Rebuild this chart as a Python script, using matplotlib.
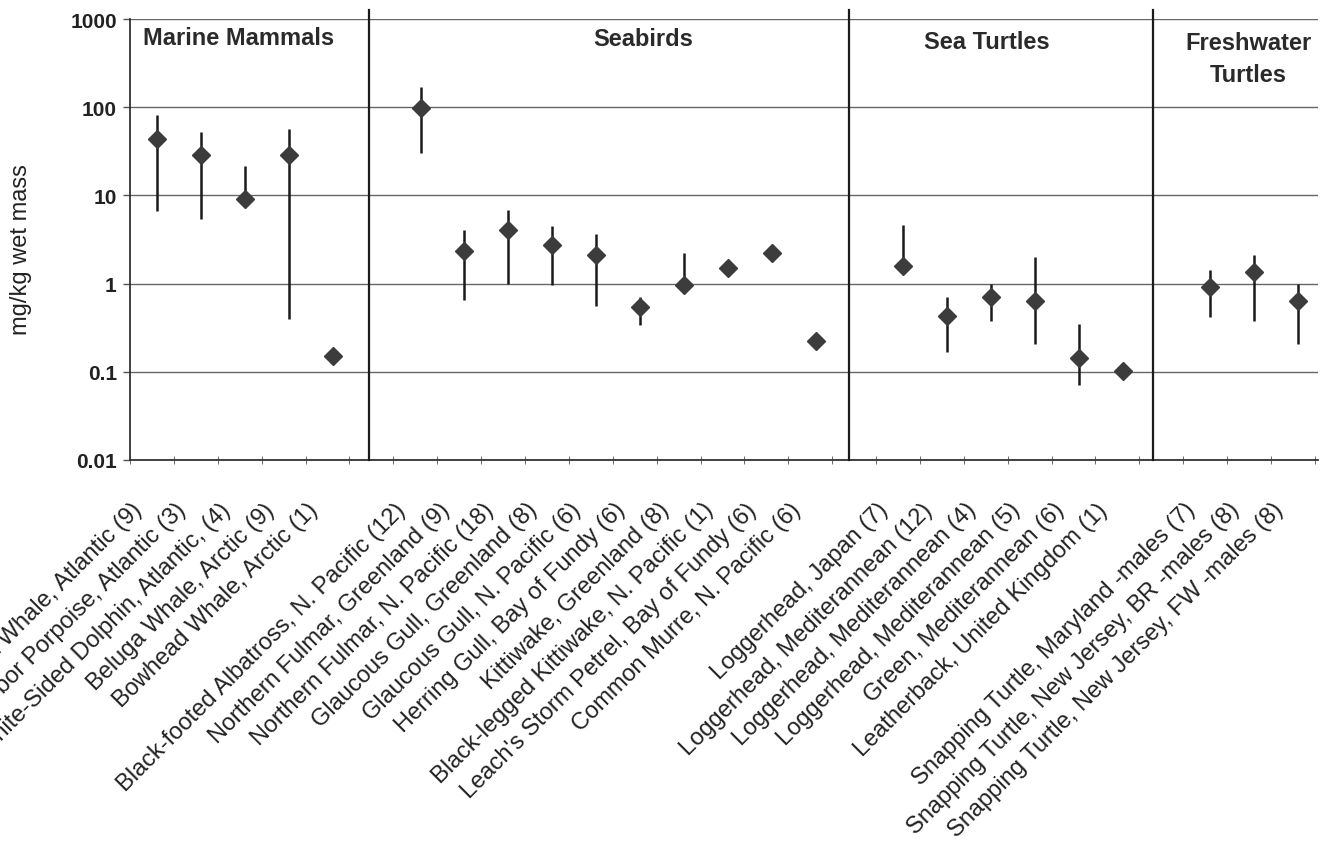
import matplotlib.pyplot as plt
import matplotlib.transforms as mtransforms
import numpy as np

plt.rcParams['font.family'] = ['Liberation Sans', 'DejaVu Sans']

# categories, "" marks the empty slot between groups
labels = ["Pilot Whale, Atlantic (9)", "Harbor Porpoise, Atlantic (3)",
          "White-Sided Dolphin, Atlantic, (4)", "Beluga Whale, Arctic (9)",
          "Bowhead Whale, Arctic (1)", "",
          "Black-footed Albatross, N. Pacific (12)", "Northern Fulmar, Greenland (9)",
          "Northern Fulmar, N. Pacific (18)", "Glaucous Gull, Greenland (8)",
          "Glaucous Gull, N. Pacific (6)", "Herring Gull, Bay of Fundy (6)",
          "Kittiwake, Greenland (8)", "Black-legged Kittiwake, N. Pacific (1)",
          "Leach's Storm Petrel, Bay of Fundy (6)", "Common Murre, N. Pacific (6)", "",
          "Loggerhead, Japan (7)", "Loggerhead, Mediterannean (12)",
          "Loggerhead, Mediterannean (4)", "Loggerhead, Mediterannean (5)",
          "Green, Mediterannean (6)", "Leatherback, United Kingdom (1)", "",
          "Snapping Turtle, Maryland -males (7)", "Snapping Turtle, New Jersey, BR -males (8)",
          "Snapping Turtle, New Jersey, FW -males (8)"]

nan = np.nan
mean = [44, 28.7, 9.1, 28.7, 0.15, nan,
        97, 2.32, 4.05, 2.74, 2.11, 0.54, 0.97, 1.51, 2.22, 0.225, nan,
        1.60, 0.43, 0.71, 0.64, 0.143, 0.103, nan,
        0.91, 1.34, 0.64]
low = [6.7, 5.4, 9.1, 0.40, 0.15, nan,
       30.3, 0.65, 1.0, 0.96, 0.56, 0.34, 0.97, 1.51, 2.22, 0.225, nan,
       1.60, 0.169, 0.38, 0.207, 0.070, 0.103, nan,
       0.42, 0.38, 0.207]
high = [82, 53, 21.7, 56.6, 0.15, nan,
        168, 4.05, 6.9, 4.47, 3.62, 0.71, 2.21, 1.51, 2.22, 0.225, nan,
        4.6, 0.71, 1.0, 1.99, 0.35, 0.103, nan,
        1.43, 2.11, 1.0]

groups = ["Marine Mammals", "Seabirds", "Sea Turtles", "Freshwater\nTurtles"]

mean = np.array(mean)
low = np.array(low)
high = np.array(high)
x = np.arange(len(labels))

fig = plt.figure(figsize=(13.28, 8.53), dpi=100)
ax = fig.add_axes([130 / 1328, 1 - 461 / 853, 1188 / 1328, 441 / 853])

ax.set_yscale('log')
ax.set_ylim(0.01, 1000)
ax.set_xlim(-0.615, 26.45)

ax.yaxis.grid(True, color='#666666', lw=1.0)
ax.set_axisbelow(True)

ok = ~np.isnan(mean)
ax.vlines(x[ok], low[ok], high[ok], color='#1a1a1a', lw=1.8, zorder=3)
ax.plot(x[ok], mean[ok], 'D', ms=9.5, color='#3c3c3c', mec='#3c3c3c', zorder=4)

# dividers between groups
for xd in [4.83, 15.76, 22.69]:
    ax.plot([xd, xd], [0.01, 1250], color='#1a1a1a', lw=1.6, clip_on=False, zorder=5)

for s in ['top', 'right']:
    ax.spines[s].set_visible(False)
ax.spines['left'].set_color('#333333')
ax.spines['bottom'].set_color('#333333')
ax.spines['left'].set_linewidth(1.3)
ax.spines['bottom'].set_linewidth(1.3)

ax.set_yticks([0.01, 0.1, 1, 10, 100, 1000])
ax.set_yticklabels(["0.01", "0.1", "1", "10", "100", "1000"], fontweight='bold')
ax.yaxis.set_minor_locator(plt.NullLocator())
ax.tick_params(axis='y', which='major', length=5, width=1, color='#555555',
               labelsize=15, labelcolor='#222222', pad=4.5)

ax.set_xticks(x)
ax.set_xticklabels(labels, rotation=45, ha='right', rotation_mode='anchor',
                   fontsize=17, color='#222222')
ax.set_xticks(np.arange(-0.62, 27, 1), minor=True)
ax.tick_params(axis='x', which='major', length=0, pad=27.5)
ax.tick_params(axis='x', which='minor', length=6, direction='inout', color='#555555')
shift = mtransforms.ScaledTranslation(-26 / 100, 0, fig.dpi_scale_trans)
for lab in ax.get_xticklabels():
    lab.set_transform(lab.get_transform() + shift)

tr = mtransforms.blended_transform_factory(ax.transData, ax.transAxes)
ax.text(-0.32, 0.958, groups[0], transform=tr, ha='left', va='center',
        fontsize=17, fontweight='bold', color='#2a2a2a')
ax.text(11.07, 0.955, groups[1], transform=tr, ha='center', va='center',
        fontsize=17, fontweight='bold', color='#2a2a2a')
ax.text(18.91, 0.948, groups[2], transform=tr, ha='center', va='center',
        fontsize=17, fontweight='bold', color='#2a2a2a')
ax.text(24.87, 0.91, groups[3], transform=tr, ha='center', va='center',
        fontsize=17, fontweight='bold', color='#2a2a2a', linespacing=1.5)

fig.text(21 / 1328, 1 - 250 / 853, "mg/kg wet mass", rotation=90, ha='center',
         va='center', fontsize=17, color='#222222')

fig.savefig('out.png', dpi=100)
